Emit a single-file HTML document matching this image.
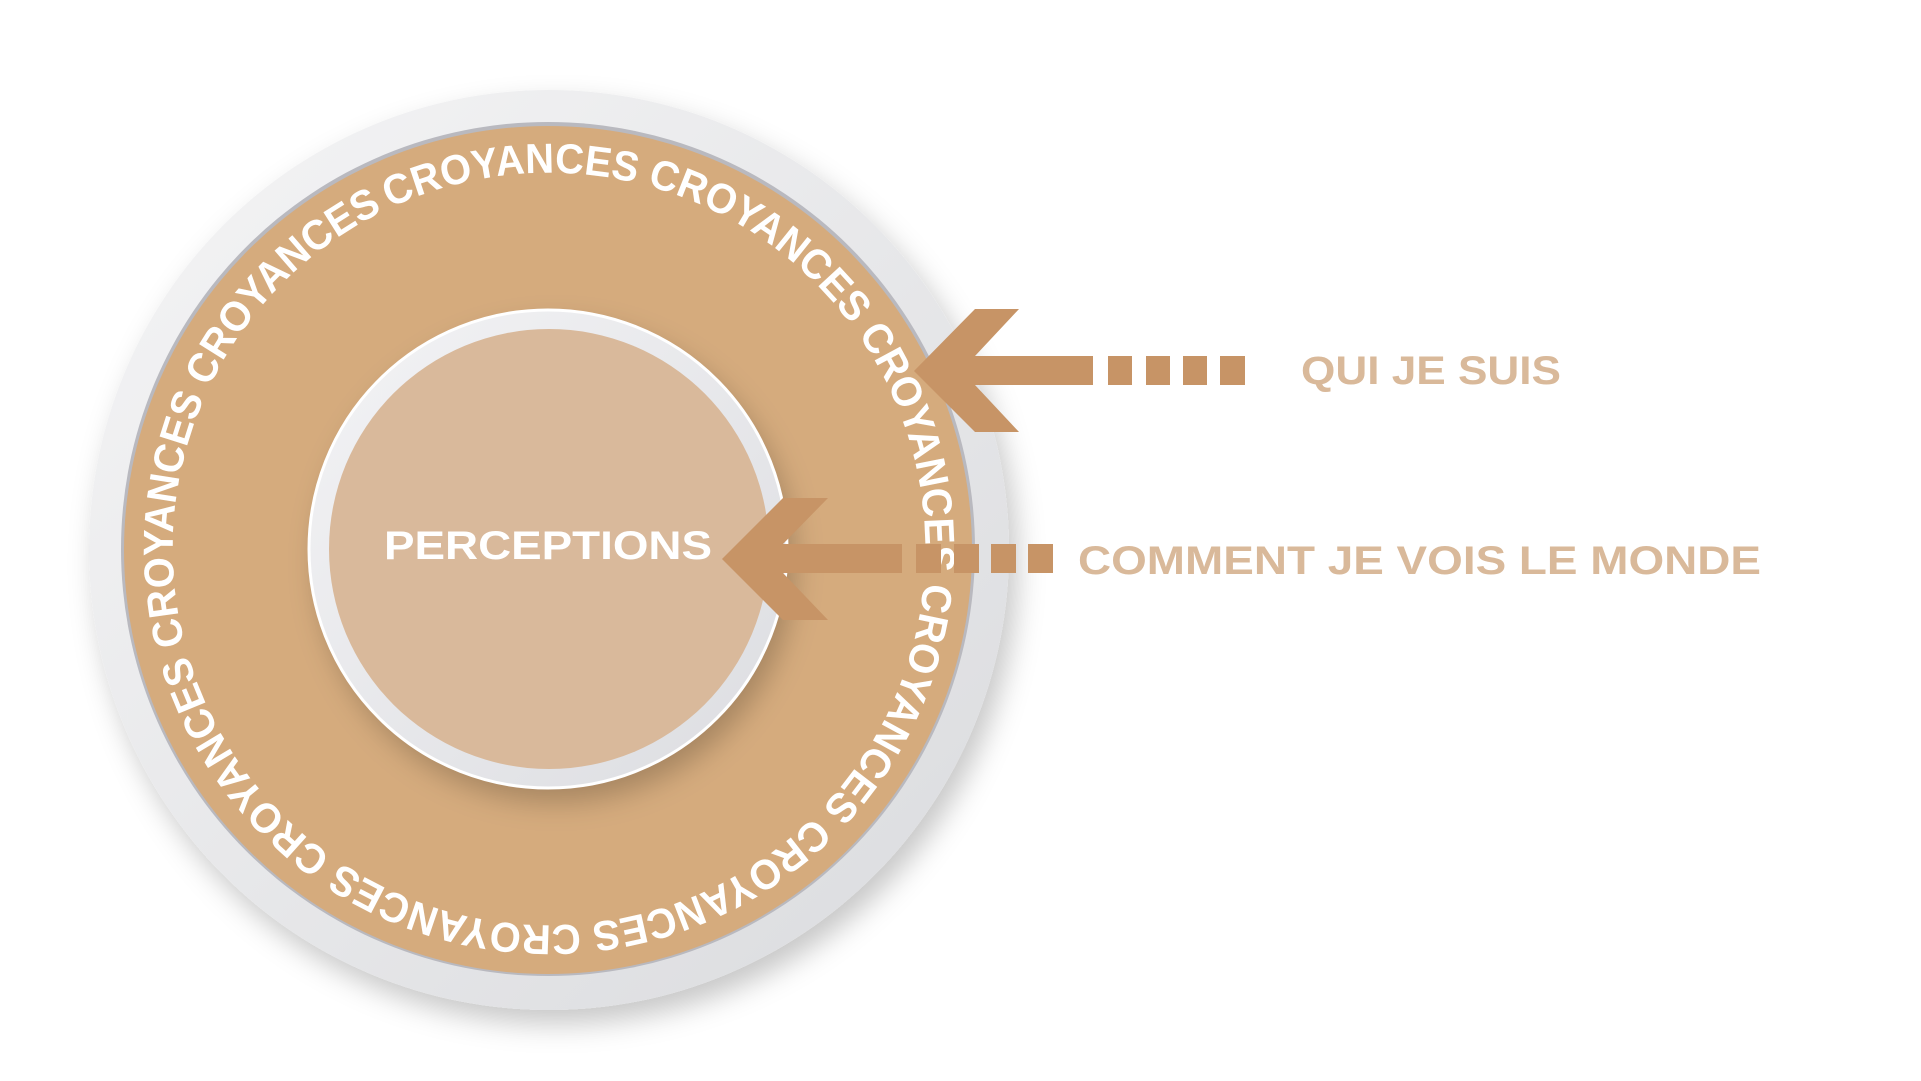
<!DOCTYPE html>
<html><head><meta charset="utf-8"><style>
html,body{margin:0;padding:0;background:#fff;width:1921px;height:1081px;overflow:hidden}
</style></head><body>
<svg width="1921" height="1081" viewBox="0 0 1921 1081" xmlns="http://www.w3.org/2000/svg">
<defs>
<linearGradient id="g1" x1="0" y1="0" x2="1" y2="1">
<stop offset="0" stop-color="#f5f5f6"/><stop offset="1" stop-color="#dadbde"/>
</linearGradient>
<linearGradient id="g2" x1="0" y1="0" x2="1" y2="1">
<stop offset="0" stop-color="#f3f3f5"/><stop offset="1" stop-color="#dcdde1"/>
</linearGradient>
<filter id="sh" x="-20%" y="-20%" width="140%" height="140%">
<feDropShadow dx="8" dy="14" stdDeviation="14" flood-color="#000" flood-opacity="0.22"/>
</filter>
<path id="tp2" d="M 390 208 A 376 376 0 0 1 708 890 A 376 376 0 0 1 390 208" fill="none"/>
</defs>
<circle cx="549" cy="550" r="460" fill="url(#g1)" filter="url(#sh)"/>
<circle cx="548" cy="549" r="427" fill="#b9b9bf"/>
<circle cx="548" cy="550" r="424" fill="#d5ab7d"/>
<circle cx="548" cy="549" r="239" fill="url(#g2)" filter="url(#sh)"/>
<circle cx="548" cy="549" r="239" fill="none" stroke="#fff" stroke-width="3"/>
<circle cx="549" cy="549" r="220" fill="#d9b99b"/>
<text font-family="Liberation Sans, sans-serif" font-weight="bold" font-size="42" fill="#fff">
<textPath href="#tp2" textLength="2355" lengthAdjust="spacingAndGlyphs">CROYANCES CROYANCES CROYANCES CROYANCES CROYANCES CROYANCES CROYANCES CROYANCES CROYANCES</textPath>
</text>
<text x="548" y="559" text-anchor="middle" font-family="Liberation Sans, sans-serif" font-weight="bold" font-size="40" fill="#fff" textLength="328" lengthAdjust="spacingAndGlyphs">PERCEPTIONS</text>
<g fill="#c79466">
<polygon points="975,309 1019,309 975,356 1093,356 1093,385 975,385 1019,432 975,432 914,371"/>
<rect x="1108" y="356" width="24" height="29"/><rect x="1146" y="356" width="24" height="29"/>
<rect x="1183" y="356" width="24" height="29"/><rect x="1220" y="356" width="25" height="29"/>
<polygon points="783,498 828,498 783,544 902,544 902,573 783,573 828,620 783,620 722,559"/>
<rect x="916" y="544" width="25" height="29"/><rect x="954" y="544" width="25" height="29"/>
<rect x="991" y="544" width="25" height="29"/><rect x="1028" y="544" width="25" height="29"/>
</g>
<g font-family="Liberation Sans, sans-serif" font-weight="bold" font-size="40" fill="#d9b99a">
<text x="1301" y="384" textLength="260" lengthAdjust="spacingAndGlyphs">QUI JE SUIS</text>
<text x="1078" y="574" textLength="683" lengthAdjust="spacingAndGlyphs">COMMENT JE VOIS LE MONDE</text>
</g>
</svg>
</body></html>
